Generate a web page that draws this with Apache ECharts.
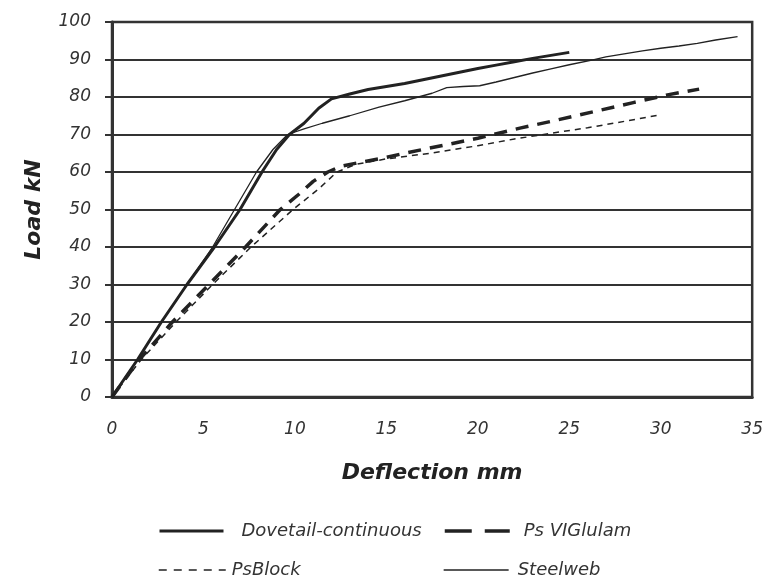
<!DOCTYPE html>
<html>
<head>
<meta charset="utf-8">
<script src="https://cdn.jsdelivr.net/npm/echarts@6/dist/echarts.min.js"></script>
<style>
  html, body { margin: 0; padding: 0; background: #fff; }
  #chart { width: 766px; height: 579px; }
</style>
</head>
<body>
<div id="chart"></div>
<script>
    'use strict';

    // deflection (mm), load (kN) pairs
    var dovetail = [[0, 0], [1.4, 10], [2.7, 20], [4.1, 30], [5.6, 40], [7.0, 50], [8.2, 60], [9.0, 66],
        [9.7, 70], [10.5, 73], [11.3, 77], [12.0, 79.5], [13.0, 80.8], [14.0, 82], [15.0, 82.8], [16.0, 83.6],
        [17, 84.6], [18, 85.6], [19, 86.6], [20, 87.6], [21, 88.5], [22, 89.4], [23, 90.3], [24, 91.1], [25, 91.9]];
    var viGlulam = [[0, 0], [1.5, 10], [3.3, 20], [5.3, 30], [7.3, 40], [9.2, 50], [10.2, 54], [11.0, 57.5],
        [11.8, 60], [12.5, 61.5], [13.5, 62.5], [14.6, 63.5], [16, 65], [18, 67], [20, 69], [22.3, 71.7],
        [24, 73.5], [26.7, 76.5], [28.5, 78.5], [30.3, 80.5], [32.1, 82.1]];
    var psBlock = [[0, 0], [1.6, 10], [3.5, 20], [5.5, 30], [7.6, 40], [9.9, 50], [11.3, 55.5], [12.3, 60],
        [13.3, 62], [15, 63.5], [17.4, 65], [20, 67], [22, 68.8], [24.5, 70.7], [26, 71.8], [28, 73.5], [29.9, 75.2]];
    var steelweb = [[0, 0], [1.4, 10], [2.7, 20], [4.1, 30], [5.5, 40], [6.7, 50], [7.9, 60], [8.8, 66],
        [9.6, 70], [10.5, 71.5], [11.5, 73], [13, 75], [14.6, 77.3], [16, 79], [17.5, 81], [18.3, 82.5],
        [19.2, 82.8], [20.1, 83], [21, 84], [22, 85.2], [23, 86.4], [24, 87.5], [25, 88.6], [26.3, 89.9],
        [27, 90.7], [28, 91.5], [29, 92.3], [30, 93], [31, 93.6], [32, 94.3], [33, 95.2], [34.2, 96.1]];

    var seriesNames = ['Dovetail-continuous', 'Ps VIGlulam', 'PsBlock', 'Steelweb'];

    var FONT = '"DejaVu Sans", sans-serif';
    var INK = '#222';

    // one legend per entry so the 2x2 layout sits where the original has it
    function legendAt(name, left, top, width, textGap, lineW, lineType) {
        return {
            data: [{ name: name, lineStyle: { color: INK, width: lineW, type: lineType } }],
            left: left,
            top: top,
            padding: 0,
            itemWidth: width,
            itemHeight: 14,
            itemStyle: { opacity: 0 },
            textStyle: {
                fontFamily: FONT, fontStyle: 'italic', fontSize: 18, color: '#333',
                padding: [0, 0, 0, textGap]
            }
        };
    }

    function lineSeries(name, data, width, type) {
        return {
            name: name,
            type: 'line',
            data: data,
            showSymbol: false,
            symbol: 'none',
            smooth: false,
            lineStyle: { color: INK, width: width, type: type },
            itemStyle: { color: INK },
            emphasis: { disabled: true }
        };
    }

    var chart = echarts.init(document.getElementById('chart'));
    chart.setOption({
        animation: false,
        backgroundColor: '#fff',
        grid: {
            left: 112, right: 10, top: 22, bottom: 182,
            show: true, borderColor: '#333', borderWidth: 2.5, backgroundColor: 'transparent'
        },
        legend: [
            legendAt(seriesNames[0], 158, 522, 64, 13, 3, 'solid'),
            legendAt(seriesNames[1], 443, 522, 65, 9, 3.5, [27, 13]),
            legendAt(seriesNames[2], 158, 561, 67, 1, 1.5, [8, 7]),
            legendAt(seriesNames[3], 443, 561, 65, 4, 1.3, 'solid')
        ],
        xAxis: {
            type: 'value', min: 0, max: 35, interval: 5,
            name: 'Deflection mm', nameLocation: 'middle', nameGap: 65,
            nameTextStyle: { fontFamily: FONT, fontStyle: 'italic', fontWeight: 'bold', fontSize: 22, color: INK },
            axisLine: { show: true, lineStyle: { color: '#333', width: 3 } },
            axisTick: { show: false },
            axisLabel: { fontFamily: FONT, fontStyle: 'italic', fontSize: 17, color: '#333', margin: 24 },
            splitLine: { show: false }
        },
        yAxis: {
            type: 'value', min: 0, max: 100, interval: 10,
            name: 'Load kN', nameLocation: 'middle', nameGap: 67,
            nameTextStyle: { fontFamily: FONT, fontStyle: 'italic', fontWeight: 'bold', fontSize: 22, color: INK },
            axisLine: { show: true, lineStyle: { color: '#333', width: 3 } },
            axisTick: { show: true, inside: false, length: 7, lineStyle: { color: '#333', width: 2 } },
            axisLabel: { fontFamily: FONT, fontStyle: 'italic', fontSize: 17, color: '#333', margin: 21 },
            splitLine: { show: true, lineStyle: { color: '#333', width: 2 } }
        },
        series: [
            lineSeries(seriesNames[0], dovetail, 3, 'solid'),
            lineSeries(seriesNames[1], viGlulam, 3.5, [13, 9]),
            lineSeries(seriesNames[2], psBlock, 1.5, [6, 5]),
            lineSeries(seriesNames[3], steelweb, 1.3, 'solid')
        ]
    });
</script>
</body>
</html>
